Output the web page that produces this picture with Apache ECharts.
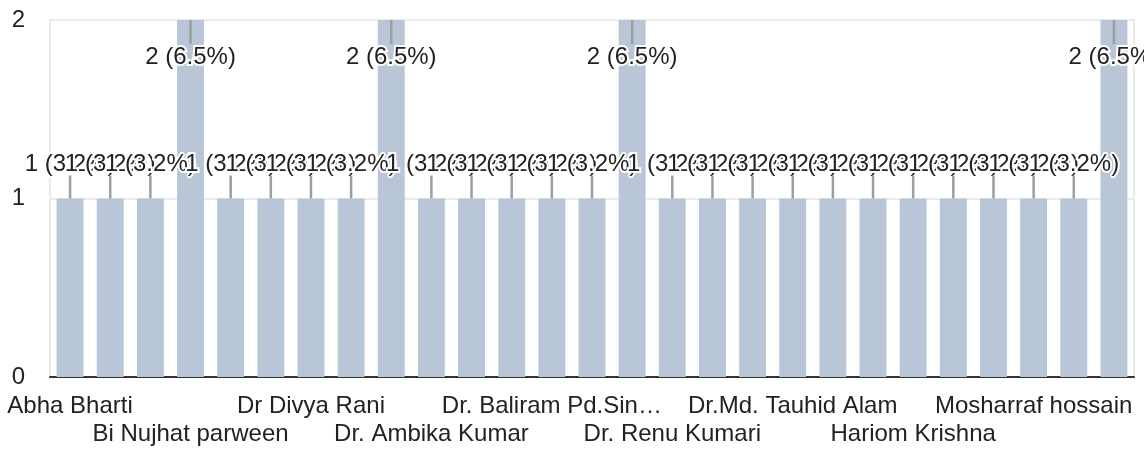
<!DOCTYPE html>
<html>
<head>
<meta charset="utf-8">
<script src="https://cdn.jsdelivr.net/npm/echarts@6/dist/echarts.min.js"></script>
<style>
html,body{margin:0;padding:0;background:#fff;}
#chart{width:1144px;height:452px;}
</style>
</head>
<body>
<div id="chart"></div>
<script>
const categories = [
  'Abha Bharti', 'Akhtar Husain', 'Anita Kumari', 'Bi Nujhat parween',
  'Chandan Kumar', 'Dr Anil Kumar', 'Dr Divya Rani', 'Dr Kiran Kumari',
  'Dr Sunita Kumari', 'Dr. Ambika Kumar', 'Dr. Anjali Singh', 'Dr. Archana Kumari',
  'Dr. Baliram Pd.Singh', 'Dr. Neelam Kumari', 'Dr. Rajesh Kumar', 'Dr. Renu Kumari',
  'Dr. Shabnam Ara', 'Dr. Vinod Kumar', 'Dr.Md. Tauhid Alam', 'Dr.Sanjay Kumar',
  'Farhat Jahan', 'Hariom Krishna', 'Kumari Anita', 'Md. Irfan Ali',
  'Mosharraf hossain', 'Nikhat Parween', 'Rakesh Kumar'
];
const counts = [
  1, 1, 1, 2,
  1, 1, 1, 1,
  2, 1, 1, 1,
  1, 1, 2, 1,
  1, 1, 1, 1,
  1, 1, 1, 1,
  1, 1, 2
];
const yTicks = [0, 1, 2];

const total = counts.reduce((a, b) => a + b, 0);
const yMax = yTicks[yTicks.length - 1];
const FONT = '"Liberation Sans", Arial, sans-serif';

const chart = echarts.init(document.getElementById('chart'), null, {renderer: 'canvas'});

function catLabel(margin) {
  return {
    margin: margin,
    color: '#222',
    fontSize: 24,
    fontFamily: FONT,
    lineHeight: 28,
    width: 222,
    overflow: 'truncate',
    ellipsis: '…',
    showMinLabel: true,
    showMaxLabel: true
  };
}

const option = {
  animation: false,
  backgroundColor: '#fff',
  grid: {
    left: 50, right: 10, top: 20, bottom: 75,
    containLabel: false,
    outerBoundsMode: 'none',
    show: true, borderColor: '#ebebeb', borderWidth: 2, backgroundColor: 'transparent'
  },
  xAxis: [
    {
      type: 'category',
      position: 'bottom',
      data: categories,
      axisTick: {show: false},
      axisLine: {show: true, lineStyle: {color: '#333', width: 2}},
      axisLabel: Object.assign(catLabel(15), {interval: (idx) => idx % 6 === 0}),
      splitLine: {show: false}
    },
    {
      type: 'category',
      position: 'bottom',
      data: categories,
      axisTick: {show: false},
      axisLine: {show: false},
      axisLabel: Object.assign(catLabel(43), {interval: (idx) => idx % 6 === 3}),
      splitLine: {show: false}
    }
  ],
  yAxis: {
    type: 'value',
    min: yTicks[0],
    max: yMax,
    interval: 1,
    axisLine: {show: true, lineStyle: {color: '#ebebeb', width: 2}},
    axisTick: {show: false},
    axisLabel: {
      margin: 25,
      color: '#222',
      fontSize: 24,
      fontFamily: FONT
    },
    splitLine: {show: true, lineStyle: {color: '#ebebeb', width: 2}}
  },
  series: [
    {
      type: 'bar',
      xAxisIndex: 0,
      data: counts,
      barCategoryGap: '33%',
      itemStyle: {color: '#b8c6d7'},
      silent: true
    },
    {
      type: 'custom',
      xAxisIndex: 0,
      silent: true,
      z: 5,
      data: counts.map((v, i) => [i, v]),
      encode: {x: 0, y: 1},
      renderItem: function (params, api) {
        const i = api.value(0);
        const v = api.value(1);
        const p = api.coord([i, v]);
        const atMax = v >= yMax;
        const y2 = atMax ? p[1] + 24 : p[1] - 23;
        const ty = atMax ? p[1] + 37 : p[1] - 34;
        const txt = v + ' (' + (v / total * 100).toFixed(1) + '%)';
        return {
          type: 'group',
          children: [
            {
              type: 'line',
              shape: {x1: p[0], y1: p[1], x2: p[0], y2: y2},
              style: {stroke: '#9e9e9e', lineWidth: 2.5}
            },
            {
              type: 'text',
              x: p[0],
              y: ty,
              style: {
                text: txt,
                fill: '#222',
                fontSize: 24,
                fontFamily: FONT,
                align: 'center',
                verticalAlign: 'middle',
                stroke: '#fff',
                lineWidth: 4
              }
            }
          ]
        };
      }
    }
  ]
};
chart.setOption(option);
</script>
</body>
</html>
